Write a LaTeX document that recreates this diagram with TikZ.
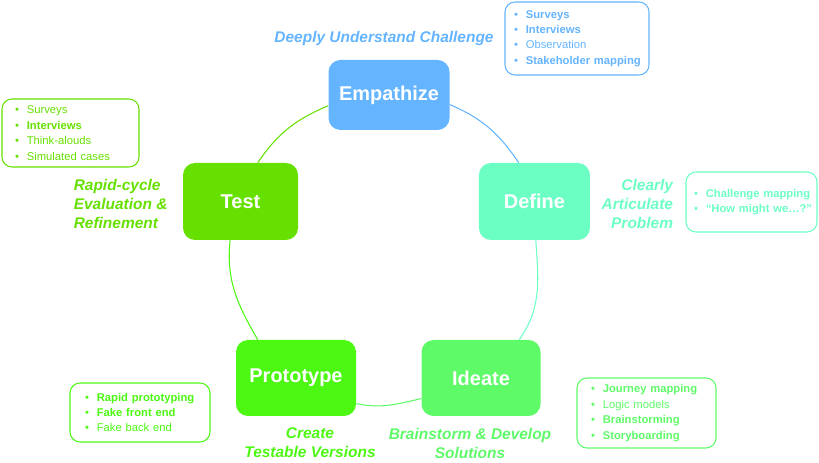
\documentclass[tikz,border=0pt]{standalone}
\usepackage{fontspec}
\setmainfont{Liberation Sans}
\usepackage{xcolor}
\usetikzlibrary{positioning}

\definecolor{empcol}{RGB}{100,180,255}
\definecolor{defcol}{RGB}{108,255,196}
\definecolor{idecol}{RGB}{94,250,104}
\definecolor{procol}{RGB}{76,248,18}
\definecolor{tstcol}{RGB}{102,224,0}

\newcommand{\itm}[1]{\mbox{\textbullet\hspace{0.7em}#1}}
\newcommand{\bitm}[1]{\mbox{\textbullet\hspace{0.7em}\textbf{#1}}}

\tikzset{
    stage/.style={fill=#1, rounded corners=0.3cm, text=white, font=\fontsize{14.2}{16}\selectfont\bfseries},
    listbox/.style={draw=#1, text=#1, line width=0.75pt, rounded corners=0.25cm, align=left, inner xsep=1pt,
        font=\fontsize{8}{11}\selectfont},
    goal/.style={text=#1, font=\fontsize{11}{13.5}\selectfont\bfseries\itshape},
    cycle/.style={draw=#1, line width=0.75pt}
}

\begin{document}
\begin{tikzpicture}
            \useasboundingbox (0,0) rectangle (20.475,11.55);

            \node[stage=empcol, minimum width=3.025cm, minimum height=1.75cm] (emp) at (9.725,9.175) {Empathize};
            \node[stage=defcol, minimum width=2.775cm, minimum height=1.925cm] (def) at (13.36,6.5125) {Define};
            \node[stage=idecol, minimum width=2.975cm, minimum height=1.9cm] (ide) at (12.025,2.1) {Ideate};
            \node[stage=procol, minimum width=3.0cm, minimum height=1.9cm] (pro) at (7.4,2.1) {Prototype};
            \node[stage=tstcol, minimum width=2.875cm, minimum height=1.925cm] (tst) at (6.0125,6.5125) {Test};

            \draw[cycle=empcol] (emp.-9) to[out=-23,in=124] (def.112);
            \draw[cycle=defcol] (def.-88) to[out=-86,in=55] (ide.45);
            \draw[cycle=idecol] (ide.199) to[out=193,in=-12] (pro.-23);
            \draw[cycle=procol] (pro.135) to[out=120,in=-96] (tst.-105);
            \draw[cycle=tstcol] (tst.66) to[out=56,in=203] (emp.190);

            \node[goal=empcol] (empgoal) at (9.6,10.575) {Deeply Understand Challenge};
            \node[goal=defcol, align=right, anchor=east] (defgoal) at (16.95,6.45) {Clearly\\Articulate\\Problem};
            \node[goal=idecol, align=center] (idegoal) at (11.75,0.475) {Brainstorm \& Develop\\Solutions};
            \node[goal=procol, align=center] (progoal) at (7.75,0.475) {Create\\Testable Versions};
            \node[goal=tstcol, align=left, anchor=west] (tstgoal) at (1.72,6.45) {Rapid-cycle\\Evaluation \&\\Refinement};

            \node[listbox=empcol, minimum width=3.6cm, minimum height=1.825cm, text width=3.15cm] (emplist) at (14.425,10.5875)
                {\bitm{Surveys}\\\bitm{Interviews}\\\itm{Observation}\\\bitm{Stakeholder mapping}};
            \node[listbox=defcol, minimum width=3.275cm, minimum height=1.5cm, text width=2.875cm] (deflist) at (18.7875,6.5)
                {\bitm{Challenge mapping}\\\bitm{“How might we…?”}};
            \node[listbox=idecol, minimum width=3.475cm, minimum height=1.75cm, text width=2.775cm] (idelist) at (16.1625,1.225)
                {\bitm{Journey mapping}\\\itm{Logic models}\\\bitm{Brainstorming}\\\bitm{Storyboarding}};
            \node[listbox=procol, minimum width=3.5cm, minimum height=1.475cm, text width=2.75cm] (prolist) at (3.5,1.2375)
                {\bitm{Rapid prototyping}\\\bitm{Fake front end}\\\itm{Fake back end}};
            \node[listbox=tstcol, minimum width=3.425cm, minimum height=1.7cm, text width=2.775cm] (tstlist) at (1.7625,8.225)
                {\itm{Surveys}\\\bitm{Interviews}\\\itm{Think-alouds}\\\itm{Simulated cases}};
        \end{tikzpicture}
\end{document}
